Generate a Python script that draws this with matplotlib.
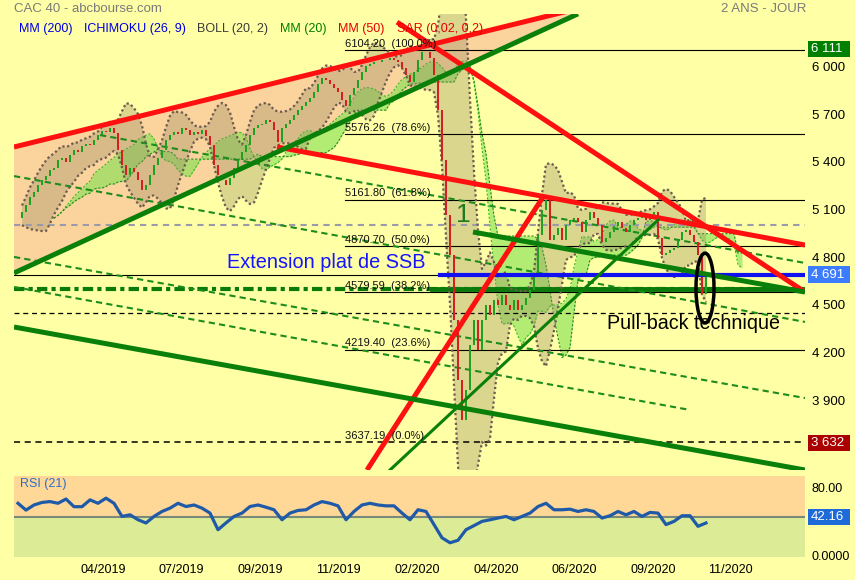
import numpy as np
import pandas as pd
import matplotlib
matplotlib.use('Agg')
import matplotlib.pyplot as plt
from matplotlib.patches import Ellipse, Rectangle, Polygon
from matplotlib.transforms import blended_transform_factory

plt.rcParams['font.family'] = ['Liberation Sans', 'DejaVu Sans']

# ---------------- data ----------------
closes = [5045, 5083, 5128, 5178, 5210, 5255, 5286, 5312, 5350, 5362,
          5413, 5426, 5400, 5445, 5477, 5464, 5502, 5511, 5504, 5536,
          5568, 5593, 5587, 5612, 5580, 5477, 5381, 5318, 5362, 5337,
          5286, 5223, 5255, 5318, 5381, 5426, 5477, 5536, 5568, 5587,
          5574, 5612, 5599, 5568, 5587, 5574, 5599, 5561, 5504, 5381,
          5318, 5286, 5255, 5299, 5362, 5413, 5464, 5504, 5568, 5612,
          5631, 5638, 5663, 5650, 5599, 5523, 5612, 5638, 5663, 5695,
          5726, 5752, 5777, 5802, 5840, 5891, 5929, 5917, 5891, 5866,
          5840, 5790, 5752, 5821, 5866, 5917, 5967, 6005, 6016, 6029,
          6029, 6041, 6041, 6054, 6041, 6029, 5993, 5948, 5904, 5967,
          6041, 6092, 6092, 6054, 5948, 5726, 5413, 5064, 4814, 4406,
          4028, 3775, 3964, 4250, 4406, 4218, 4406, 4500, 4438, 4531,
          4500, 4563, 4500, 4468, 4531, 4468, 4500, 4544, 4595, 4690,
          4940, 5096, 5159, 4909, 4940, 4985, 4909, 5004, 5033, 5045,
          5023, 4960, 5033, 5083, 5045, 5004, 4896, 4921, 4960, 4998,
          5023, 4985, 4960, 5004, 5033, 5045, 5064, 5033, 5045, 5083,
          4921, 4814, 4826, 4845, 4858, 4909, 4960, 4972, 4940, 4896,
          4814, 4570, 4700]

rsi_values = [61, 53, 59, 62, 63, 61, 66, 57, 57, 65, 61, 67, 61, 45.6, 47.5,
              41.7, 37.9, 45.6, 51.4, 55.3, 61, 57.2, 59, 55.3, 49.5, 30, 38,
              45.6, 49.5, 57.2, 59, 56.4, 53.4, 41.7, 49.5, 52.6, 53.4, 59, 63,
              61, 58, 41.7, 51.4, 59, 61, 59, 58, 58, 49.5, 41.7, 53.4, 51.4,
              36, 20.5, 14.7, 17.6, 30, 34.8, 39.8, 41.7, 43.7, 45.6, 41.7,
              45.6, 49.5, 57.2, 61, 53.4, 53.4, 54.1, 51.4, 53.4, 51.4, 43.7,
              46.4, 51.4, 47.5, 51.4, 45.6, 50.3, 49.5, 36, 39.8, 46.4, 46.4,
              34, 37.9]
rsi_step = 2
rsi_mid = 45
rsi_last = 42.16

tick_pos = [21.4, 40.9, 60.5, 80, 99.8, 119.5, 139, 158.7, 178.2]
tick_labels = ['04/2019', '07/2019', '09/2019', '11/2019', '02/2020',
               '04/2020', '06/2020', '09/2020', '11/2020']

price_ticks = [6000, 5700, 5400, 5100, 4800, 4500, 4200, 3900]
price_tick_labels = ['6 000', '5 700', '5 400', '5 100', '4 800', '4 500', '4 200', '3 900']

fib_levels = [6104.20, 5576.26, 5161.80, 4870.70, 4579.59, 4219.40]
fib_pcts = ['100.0%', '78.6%', '61.8%', '50.0%', '38.2%', '23.6%']
fib_zero = 3637.19
fib_start = 81.75

level_high, level_ssb, level_low = 6111, 4691, 3632
gray_level = 5003
dash_black_level = 4449
support_level = 4600

# trendlines (index0, value0, index1, value1)
red_lines = [(-1, 5494, 140, 6365), (94.75, 6280, 196.75, 4581),
             (64.75, 5494, 196.75, 4877), (87.25, 3461, 131.25, 5179)]
green_lines = [(-1, 4701, 140, 6332), (113.75, 4959, 196.75, 4581),
               (-1, 4361, 196.75, 3461)]
green_steep = (93, 3461, 160, 5034)
green_dashed = [(20.5, 5569, 196.75, 4764), (-1, 5311, 196.75, 4393),
                (-1, 4802, 196.75, 3914), (-1, 4613, 168, 3839)]
ssb_start = 105.5

# ---------------- figure ----------------
W, H = 855, 580
BG = '#FFFFA6'
fig = plt.figure(figsize=(W / 100, H / 100), dpi=100, facecolor=BG)

def fx(px):
    return px / W

def fy(py):
    return 1 - py / H

ax = fig.add_axes([fx(14), fy(470), fx(805) - fx(14), fy(14) - fy(470)])
axr = fig.add_axes([fx(14), fy(557), fx(805) - fx(14), fy(476) - fy(557)], sharex=ax)
ax.set_facecolor(BG)
for a in (ax, axr):
    for s in a.spines.values():
        s.set_visible(False)

XMIN, XMAX = -1, 196.75
ax.set_xlim(XMIN, XMAX)
ax.set_ylim(3461, 6331)

c = pd.Series(closes, dtype=float)
n = len(c)
idx = np.arange(n)
opens = np.array([closes[0]] + closes[:-1], dtype=float)

# peach wedge
r0, g0 = red_lines[0], green_lines[0]
ax.add_patch(Polygon([(g0[0], g0[1]), (g0[2], g0[3]), (r0[2], r0[3]), (r0[0], r0[1])],
                     closed=True, facecolor='#FAD49C', edgecolor='none', zorder=1))

# ichimoku cloud (periods scaled to the sampled data)
ten = (c.rolling(3, min_periods=1).max() + c.rolling(3, min_periods=1).min()) / 2
kij = (c.rolling(9, min_periods=1).max() + c.rolling(9, min_periods=1).min()) / 2
ssa = (ten + kij) / 2
ssb = (c.rolling(19, min_periods=1).max() + c.rolling(19, min_periods=1).min()) / 2
xs = idx + 9
ax.fill_between(xs, ssa, ssb, color='#80E050', alpha=0.6, lw=0, zorder=2)
ax.plot(xs, ssa, color='#33bb22', lw=0.8, ls=(0, (2, 1.5)), zorder=2.5)
ax.plot(xs, ssb, color='#228b22', lw=0.8, ls=(0, (2, 1.5)), zorder=2.5)

# bollinger bands (periods scaled to the sampled data)
mid = c.rolling(8, min_periods=2).mean()
sd = c.rolling(8, min_periods=2).std()
up, lo = mid + 2.3 * sd, mid - 2.3 * sd
ax.fill_between(idx, lo, up, color='#968C64', alpha=0.35, lw=0, zorder=3)
ax.plot(idx, up, color='#6e5a50', lw=1.6, ls=(0, (1, 1.2)), zorder=5)
ax.plot(idx, lo, color='#6e5a50', lw=1.6, ls=(0, (1, 1.2)), zorder=5)

# horizontal lines
ax.axhline(gray_level, color='#9a9aaa', lw=1.5, ls=(0, (3, 2.5)), zorder=4)
ax.axhline(dash_black_level, color='black', lw=0.9, ls=(0, (4, 3)), zorder=4)
ax.axhline(fib_zero, color='black', lw=1.1, ls=(0, (4, 3)), zorder=4)
ax.axhline(support_level, color='#0a7a0a', lw=3, ls=(0, (2.5, 1, 1, 1)), zorder=4)
ax.plot([103.5, XMAX], [support_level, support_level], color='#0a7a0a', lw=3.5, zorder=4)
ax.plot([XMIN, ssb_start], [level_ssb, level_ssb], color='black', lw=0.8, zorder=4)
ax.plot([ssb_start, XMAX], [level_ssb, level_ssb], color='#1010f0', lw=3, zorder=7)

for lv, pct in zip(fib_levels, fib_pcts):
    ax.plot([fib_start, XMAX], [lv, lv], color='black', lw=0.8, zorder=4)
    ax.text(fib_start, lv + 8, f'{lv:.2f}  ({pct})', fontsize=8, color='#111111',
            va='bottom', ha='left', zorder=8)
ax.text(fib_start, fib_zero + 8, f'{fib_zero:.2f}  (0.0%)', fontsize=8, color='#111111',
        va='bottom', ha='left', zorder=8)

# candles
colors = np.where(c.values >= opens, '#1fa01f', '#d42020')
ax.bar(idx, c.values - opens, bottom=opens, width=0.62, color=colors, lw=0, zorder=6)

# trendlines
for (a0, b0, a1, b1) in green_dashed:
    ax.plot([a0, a1], [b0, b1], color='#1c8c1c', lw=1.5, ls=(0, (3, 2)), zorder=4)
for (a0, b0, a1, b1) in red_lines:
    ax.plot([a0, a1], [b0, b1], color='#ff1010', lw=3.6, zorder=7, solid_capstyle='butt')
for (a0, b0, a1, b1) in green_lines:
    ax.plot([a0, a1], [b0, b1], color='#0a800a', lw=3.6, zorder=7, solid_capstyle='butt')
a0, b0, a1, b1 = green_steep
ax.plot([a0, a1], [b0, b1], color='#0a800a', lw=2.2, zorder=7)

# annotations
ax.text(101.75, 4770, 'Extension plat de SSB', color='#1414ff', fontsize=14.3,
        ha='right', va='center', zorder=8)
ax.text(111.25, 5066, '1', color='#1e7a1e', fontsize=19, ha='center', va='center', zorder=8)
ax.add_patch(Ellipse((171.75, 4606), 4.5, 440, fill=False, edgecolor='black', lw=2.5, zorder=8))
ax.text(147.25, 4386, 'Pull-back technique', color='black', fontsize=14.2,
        ha='left', va='center', zorder=8)

# right axis
ax.yaxis.tick_right()
ax.set_yticks(price_ticks)
ax.set_yticklabels(price_tick_labels)
ax.tick_params(axis='y', length=0, pad=5, labelsize=9.5)
ax.tick_params(axis='x', length=0, labelbottom=False)

bt = blended_transform_factory(fig.transFigure, ax.transData)
for v, col in [(level_high, '#008000'), (level_ssb, '#3c7cff'), (level_low, '#aa0000')]:
    ax.add_patch(Rectangle((fx(808), v - 52), fx(42), 104, transform=bt,
                           facecolor=col, edgecolor='none', clip_on=False, zorder=9))
    ax.text(fx(811), v, f'{v:,}'.replace(',', ' '), transform=bt, color='white',
            fontsize=9.5, va='center', ha='left', zorder=10, clip_on=False)

# RSI panel
axr.set_ylim(-2, 93)
axr.axhspan(rsi_mid, 93, color='#FFD797', zorder=0)
axr.axhspan(-2, rsi_mid, color='#DCEB96', zorder=0)
axr.axhline(rsi_mid, color='#7a8a78', lw=1.5, zorder=1)
axr.plot(np.arange(len(rsi_values)) * rsi_step, rsi_values, color='#1f5aa8', lw=2.3, zorder=3)
axr.text(0.0076, 0.90, 'RSI (21)', transform=axr.transAxes, color='#2a6fc8',
         fontsize=9, va='center', ha='left')
axr.yaxis.tick_right()
axr.set_yticks([80, 0])
axr.set_yticklabels(['80.00', '0.0000'])
axr.tick_params(axis='y', length=0, pad=5, labelsize=9)
btr = blended_transform_factory(fig.transFigure, axr.transData)
axr.add_patch(Rectangle((fx(808), rsi_mid - 9.4), fx(42), 18.8, transform=btr,
                        facecolor='#1e6ad8', edgecolor='none', clip_on=False, zorder=9))
axr.text(fx(811), rsi_mid, f'{rsi_last:.2f}', transform=btr, color='white', fontsize=9.5,
         va='center', ha='left', zorder=10, clip_on=False)
axr.set_xticks(tick_pos)
axr.set_xticklabels(tick_labels)
axr.tick_params(axis='x', length=0, pad=5, labelsize=9)

# header
fig.text(fx(14), fy(9), 'CAC 40 - abcbourse.com', color='#7a7a7a', fontsize=9.5, va='center')
fig.text(fx(806), fy(9), '2 ANS - JOUR', color='#7a7a7a', fontsize=9.5, va='center', ha='right')
legend_items = [(19, 'MM (200)', '#0000e0'), (84, 'ICHIMOKU (26, 9)', '#0000e0'),
                (197, 'BOLL (20, 2)', '#3a3a3a'), (280, 'MM (20)', '#008000'),
                (338, 'MM (50)', '#e80000'), (397, 'SAR (0,02, 0,2)', '#e80000')]
for px, txt, col in legend_items:
    fig.text(fx(px), fy(29), txt, color=col, fontsize=9, va='center', ha='left')

fig.savefig('out.png', dpi=100, facecolor=BG)
